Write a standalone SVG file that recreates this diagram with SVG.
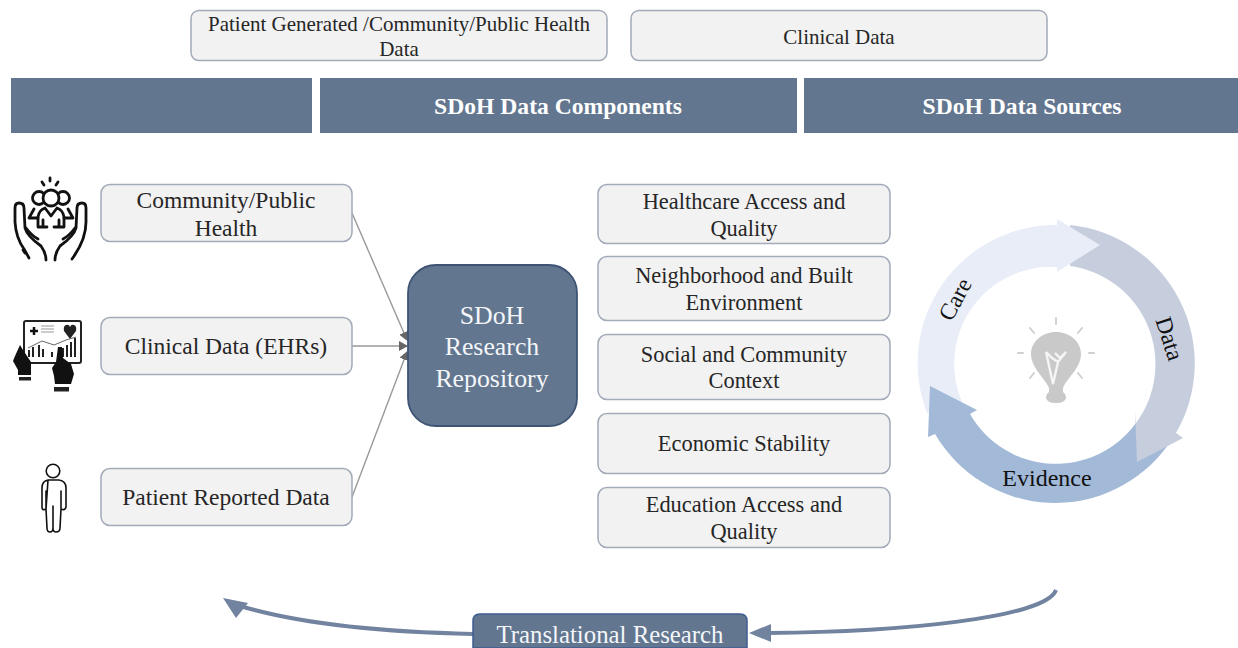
<svg xmlns="http://www.w3.org/2000/svg" width="1238" height="648" viewBox="0 0 1238 648">
<style>
text{font-family:"Liberation Serif","Times New Roman",serif;text-anchor:middle;fill:#262626;font-size:22.4px}
.top{font-size:21px}
.big{font-size:23.500px}
.box{fill:#f2f2f2;stroke:#a3abb9;stroke-width:1.5}
.band{fill:#62768f}
.bandt{fill:#fff;font-weight:bold;font-size:23.600px}
.lt{fill:#f4f6fa}
.rep{font-size:25.800px}
.conn{fill:none;stroke:#999;stroke-width:1.4}
.ic{fill:none;stroke:#111;stroke-width:2.8;stroke-linecap:round;stroke-linejoin:round}
.ray{stroke:#d0d0d0;stroke-width:2;stroke-linecap:round}
.cur{fill:none;stroke:#71839f;stroke-width:4}
</style>
<defs>
<marker id="a" markerWidth="9" markerHeight="10" refX="8" refY="5" orient="auto" markerUnits="userSpaceOnUse"><path d="M0 0L9 5L0 10z" fill="#666"/></marker>
</defs>
<rect width="1238" height="648" fill="#fff"/>
<g id="top-patient"><rect class="box" x="191" y="10.500" width="416" height="50" rx="8"/><text class="top" x="399" y="31">Patient Generated /Community/Public Health</text><text class="top" x="399" y="56">Data</text></g>
<g id="top-clinical"><rect class="box" x="631" y="10.500" width="416" height="50" rx="8"/><text class="top" x="839" y="44">Clinical Data</text></g>
<g id="band-blank"><rect class="band" x="11" y="78" width="301" height="55"/></g>
<g id="band-components"><rect class="band" x="320" y="78" width="477" height="55"/><text class="bandt" x="558" y="114">SDoH Data Components</text></g>
<g id="band-sources"><rect class="band" x="804" y="78" width="434" height="55"/><text class="bandt" x="1022" y="114">SDoH Data Sources</text></g>

<g id="connectors">
<path class="conn" d="M352 213L407 340" marker-end="url(#a)"/>
<path class="conn" d="M352 346H407" marker-end="url(#a)"/>
<path class="conn" d="M352 497L407 352" marker-end="url(#a)"/>
<path class="cur" d="M1056 590C1046 618 900 632 768 633"/>
<path d="M749 633L771 624V642z" fill="#71839f"/>
<path class="cur" d="M473 634C380 632 300 624 240 606"/>
<path d="M223 598L248 603L236 618z" fill="#71839f"/>
</g>

<g id="icon-community" class="ic">
<path d="M29 258L24 249Q16 238 15 222V208Q15 203 19 203Q24 203 24 208L25 228Q27 236 41 246Q46 253 46 260"/>
<path d="M26 228Q32 236 38 239M23 250L25 253"/>
<path d="M72 259Q86 240 86 222V208Q86 203 82 203Q77 203 77 208L76 228Q74 236 60 246Q55 253 55 260"/>
<path d="M75 228Q69 236 63 239"/>
<circle cx="39" cy="198" r="6.500"/><circle cx="63" cy="198" r="6.500"/>
<circle cx="51" cy="198" r="8" fill="#fff"/>
<path d="M29 218L34 209M73 218L68 209M29 218H38M64 218H73"/>
<path d="M38 227V217Q39 210 45 208L51 216L57 208Q63 210 64 217V227H54M47 227H38M43 220V227M59 220V227"/>
<path d="M42 182L44 185M50 178V181M58 182L56 185"/>
</g>
<g id="node-community"><rect class="box" x="101" y="184.500" width="251" height="57" rx="9"/><text class="big" x="226" y="208">Community/Public</text><text class="big" x="226" y="236">Health</text></g>

<g id="icon-clinical">
<rect x="24" y="321" width="57" height="42" rx="2" fill="#fff" stroke="#222" stroke-width="2"/>
<path d="M30 331H38M34 327V335" stroke="#111" stroke-width="2.500"/>
<path d="M41 326H54M41 329H54M41 332H54" stroke="#999" stroke-width="1"/>
<path d="M70 339L64 331Q63 326 66 325Q69 324 70 327Q71 324 74 325Q77 326 76 331z" fill="#222"/>
<path d="M28 348L42 341L54 345L66 340L76 337" fill="none" stroke="#666" stroke-width="1"/>
<path d="M29 357V350M33 357V347M39 357V345M43 357V349M52 357V352M63 357V348M67 357V345M71 357V342M75 357V338" stroke="#222" stroke-width="2"/>
<path d="M20 345L23 350L31 362V375H18V370L13 361L15 356z" fill="#111"/><rect x="19" y="377" width="12" height="3.500" fill="#222"/>
<path d="M58 347L62 347L63 358L71 364L74 374L71 384H55L54 376L52 368L56 362z" fill="#111"/><rect x="54" y="387" width="15" height="4.500" fill="#222"/>
</g>
<g id="node-ehr"><rect class="box" x="101" y="317.500" width="251" height="57" rx="9"/><text class="big" x="226" y="354">Clinical Data (EHRs)</text></g>

<g id="icon-patient" class="ic" style="stroke-width:1.600">
<circle cx="53" cy="471" r="6.800"/>
<path d="M48 480H59Q66 481 66 488V507Q65 511 61 509V491M61 509L60 528Q60 532 56 532Q53 532 53 528V506V528Q53 532 50 532Q47 532 47 528L46 509V491M46 509Q42 511 42 507V488Q42 481 48 480z"/>
</g>
<g id="node-patient"><rect class="box" x="101" y="468.500" width="251" height="57" rx="9"/><text class="big" x="226" y="505">Patient Reported Data</text></g>

<g id="node-repository"><rect x="408" y="265" width="169" height="161" rx="28" fill="#62768f" stroke="#3f5475" stroke-width="1.800"/><text class="lt rep" x="492" y="324">SDoH</text><text class="lt rep" x="492" y="355">Research</text><text class="lt rep" x="492" y="387">Repository</text></g>

<g id="node-healthcare"><rect class="box" x="598" y="184.500" width="292" height="59" rx="9"/><text x="744" y="209">Healthcare Access and</text><text x="744" y="236">Quality</text></g>
<g id="node-neighborhood"><rect class="box" x="598" y="256.500" width="292" height="64" rx="9"/><text x="744" y="283">Neighborhood and Built</text><text x="744" y="310">Environment</text></g>
<g id="node-social"><rect class="box" x="598" y="334.500" width="292" height="65" rx="9"/><text x="744" y="362">Social and Community</text><text x="744" y="388">Context</text></g>
<g id="node-economic"><rect class="box" x="598" y="413.500" width="292" height="60" rx="9"/><text x="744" y="451">Economic Stability</text></g>
<g id="node-education"><rect class="box" x="598" y="487.500" width="292" height="60" rx="9"/><text x="744" y="512">Education Access and</text><text x="744" y="539">Quality</text></g>

<g id="cycle">
<path id="care-body" d="M927 413A138 138 0 0 1 1057 225L1060 225V267L1057 267A97 97 0 0 0 962 402z" fill="#e8edf7"/>
<path id="evidence" d="M1168 445A139 139 0 0 1 935 434L928 437L930 386L977 410L970 414A99 99 0 0 0 1136 423z" fill="#a3b9d8"/>
<path id="data" d="M1070 225A139 139 0 0 1 1176 433L1183 438L1137 462L1135 410L1136 423A99 99 0 0 0 1070 266z" fill="#c6cedd"/>
<path id="care-head" d="M1050 225L1057 225V219L1100 245L1057 272V267L1050 267z" fill="#e8edf7"/>
<text transform="translate(962 303) rotate(-62)" style="font-size:23.500px;fill:#111">Care</text>
<text transform="translate(1162 341) rotate(72)" style="font-size:23.500px;fill:#111">Data</text>
<text x="1047" y="486" style="font-size:24px;fill:#111">Evidence</text>
<path d="M1056 332C1042 332 1031 342 1031 354C1031 368 1045 378 1049 388V392Q1046 394 1046 398Q1047 403 1056 403Q1065 403 1066 398Q1066 394 1063 392V388C1067 378 1081 368 1081 354C1081 342 1070 332 1056 332z" fill="#c9c9c9"/>
<path d="M1046 352L1053 384L1058 362L1052 358L1046 352M1058 362L1066 352L1060 358L1055 353" fill="none" stroke="#f5f5f5" stroke-width="2.400"/>
<path class="ray" d="M1056 318V324M1030 328L1034 333M1082 328L1078 333M1018 353H1023M1089 353H1094M1030 378L1034 373M1082 378L1078 373"/>
</g>

<g id="node-translational"><path d="M473 648V621Q473 614 480 614H740Q747 614 747 621V648z" fill="#62768f" stroke="#3f5c92" stroke-width="1.500"/><text class="lt" style="font-size:24.800px" x="610" y="643">Translational Research</text></g>
</svg>
